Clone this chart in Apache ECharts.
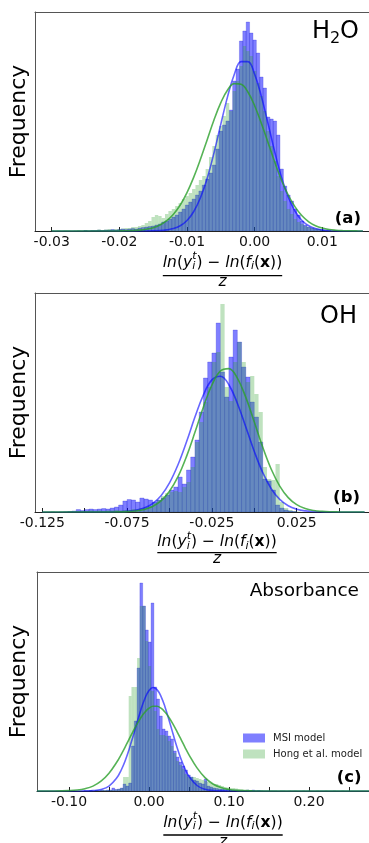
<!DOCTYPE html>
<html><head><meta charset="utf-8">
<script src="https://cdn.jsdelivr.net/npm/echarts@6/dist/echarts.min.js"></script>
<style>html,body{margin:0;padding:0;background:#fff;overflow:hidden}#c{width:369px;height:843px}</style>
</head><body><div id="c"></div>
<script>
// ---------------- DATA ----------------
// Panel (a) H2O : histogram bins (left edge of first bin, bin width, counts)
const binWidthA = 0.0005;
const msiStartA = -0.02525;
const msiCountsA = [0.5,0,0.5,0.5,1,0.5,1,1,1.5,1, 1.5,2,1.5,2,2.5,2,3,3.5,4,4.5, 5,6,7,9,10,12,14,16,19,22, 26,29,32,36,40,46,52,58,66,82, 100,106,110,121,150,162,190,200,209,198, 191,178,154,143,114,112,110,96,62,45, 36,30,22,16,10,6,4,3,2,1.5, 1,0.5,0.5];
const hongStartA = -0.03025;
const hongCountsA = [0.5,0,0.5,0,0.5,0.5,0,0.5,1,0.5, 1,0.5,1,1,1.5,1,1.5,2,1.5,2, 2,2.5,3,3,4,4,5,6,8,10, 14,16,15,13,17,20,22,25,28,32, 35,38,42,46,51,55,62,74,85,96, 105,115,128,120,140,150,165,185,180,175, 160,148,135,120,100,85,70,55,40,30, 22,17,12,9,7,5,4,3,2.5,2, 1.5,1,1,0.5,0.5];
const fitXA = [-0.030,-0.029,-0.028,-0.027,-0.026,-0.025,-0.024,-0.023,-0.022,-0.021,-0.020,-0.019,-0.018,-0.017,-0.016,-0.015,-0.014,-0.013,-0.012,-0.011,-0.010,-0.009,-0.008,-0.007,-0.006,-0.005,-0.004,-0.003,-0.002,-0.001,0,0.001,0.002,0.003,0.004,0.005,0.006,0.007,0.008,0.009,0.010,0.011,0.012,0.013,0.014,0.015,0.016];
const msiFitA = [0,0,0,0,0,0,0,0,0,0,0,0,0,0,0.05,0.15,0.4,1.1,2.4,5.2,10.5,19.5,33.5,53,78.4,106.9,134.4,156.8,169.4,169.4,156.8,134.4,106.9,78.4,53,33.5,19.5,10.5,5.2,2.4,1.1,0.4,0.15,0.05,0,0,0];
const hongFitA = [0,0,0,0,0,0,0,0,0,0.03,0.08,0.2,0.4,0.9,1.8,3.3,6,10.3,16.7,26,38.4,53.9,72,91.6,111.3,128.4,141,147.4,146.7,139,125.3,107.5,88,68.4,50.3,35.5,23.9,15.2,9.2,5.3,2.9,1.5,0.8,0.4,0.2,0.1,0];
const tickValsA = [-0.03,-0.02,-0.01,0,0.01];
const labelValsA = [-0.03,-0.02,-0.01,0,0.01];
const tickLabelsA = ['-0.03','-0.02','-0.01','0.00','0.01'];

// Panel (b) OH
const binWidthB = 0.0025;
const msiStartB = -0.1125;
const msiCountsB = [0,0.5,1,2.5,1.5,2.5,3,2.5,3,3.5, 3,4,5,7,11,12.5,12,10,14,13, 12,10,12,14,17,22,25,35,28,42, 55,72,100,134,150,159,189,140,115,155, 182,170,145,135,110,95,70,33,31,22, 7,4,2,1,0.5];
const hongStartB = -0.12;
const hongCountsB = [0.5,0,0.5,0.5,1,0.5,1,1,1,1.5, 1,1.5,1,1.5,1.5,2,1.5,2,2,3, 3,4,5,6,9,12,16,19,20,21, 20,25,30,45,70,90,110,125,150,160, 208,125,111,150,170,150,130,136,118,100, 45,33,32,48,10,4,2,1,0.5];
const fitXB = [-0.125,-0.12,-0.115,-0.11,-0.105,-0.1,-0.095,-0.09,-0.085,-0.08,-0.075,-0.07,-0.065,-0.06,-0.055,-0.05,-0.045,-0.04,-0.035,-0.03,-0.025,-0.02,-0.015,-0.01,-0.005,0,0.005,0.01,0.015,0.02,0.025,0.03,0.035,0.04,0.045,0.05,0.055,0.06,0.065];
const msiFitB = [0,0,0,0,0,0,0,0.02,0.07,0.23,0.64,1.7,3.9,8.4,16.3,29.1,47.2,70,94.9,117.2,132.1,135.7,127.3,108.8,85,60.5,39.3,23.3,12.6,6.2,2.8,1.1,0.4,0.15,0.05,0,0,0,0];
const hongFitB = [0,0,0,0,0,0,0,0.01,0.04,0.13,0.39,1.0,2.5,5.5,11.1,20.7,35.3,55.4,79.7,105.1,127,141,143.4,133.9,114.6,90,64.7,42.7,25.9,14.4,7.3,3.4,1.44,0.58,0.2,0.07,0,0,0];
const tickValsB = [-0.125,-0.1,-0.075,-0.05,-0.025,0,0.025,0.05];
const labelValsB = [-0.125,-0.075,-0.025,0.025];
const tickLabelsB = ['-0.125','-0.075','-0.025','0.025'];

// Panel (c) Absorbance
const binWidthC = 0.0035;
const msiStartC = -0.0814;
const msiCountsC = [0,0,0.5,0,0.5,0.5,1,0.5,1,1, 3,1.5,2,3,7,5,8,45,70,123, 208,185,161,149,188,104,92,75,62,60, 55,52,40,34,29,25,21,16,14,11, 10,8,7,12,5,4,3,2.5,2,2, 1.5,1.5,1,1,1,0.5,0.5,0.5,1,0.5, 1,0,0.5];
const hongStartC = -0.0814;
const hongCountsC = [0.5,0.5,1,0.5,1,0.5,1,1,1,1, 1,1.5,2,3,14,14,95,104,104,133, 185,185,150,125,100,80,62,56,56,55, 50,45,38,30,26,22,17,14,14,14, 13,12,11,10,9,8,7,7,6,5, 4,3.5,3,3,2.5,2,2,1.5,1.5,1, 1,1,0.5,1,0.5,0.5,0.5,0.5,0.5,0, 0.5,0.5,0,0.5,0,0.5,0,0,0.5,0, 0.5,0,0,0.5,0,0,0.5,0,0,0.5, 0,0,0.5];
const fitXC = [-0.14,-0.12,-0.11,-0.10,-0.09,-0.08,-0.07,-0.06,-0.05,-0.04,-0.035,-0.03,-0.025,-0.02,-0.015,-0.01,-0.005,0,0.005,0.01,0.015,0.02,0.025,0.03,0.035,0.04,0.045,0.05,0.06,0.07,0.08,0.09,0.10,0.11,0.12,0.13,0.15,0.20,0.25,0.28];
const msiFitC = [0,0,0,0,0.01,0.08,0.37,1.5,4.9,13.4,20.5,29.8,41.3,54.5,68.3,81.6,92.8,100.5,103.5,101.4,94.7,84.1,71.1,57.2,43.8,32,22.2,14.6,5.5,1.7,0.43,0.1,0,0,0,0,0,0,0,0];
const hongFitC = [0,0.04,0.12,0.36,0.94,2.3,4.9,9.8,17.8,29.2,36.2,43.7,51.6,59.4,66.9,73.5,78.9,82.8,84.7,84.7,82.8,78.9,73.5,66.9,59.4,51.6,43.7,36.2,23.1,13.4,7.05,3.4,1.5,0.6,0.2,0.07,0,0,0,0];
const tickValsC = [-0.1,-0.05,0,0.05,0.1,0.15,0.2,0.25];
const labelValsC = [-0.1,0,0.1,0.2];
const tickLabelsC = ['-0.10','0.00','0.10','0.20'];

const seriesNames = ['MSI model','Hong et al. model'];
const panelTitles = ['H\u2082O','OH','Absorbance'];
const panelLetters = ['(a)','(b)','(c)'];
const yLabel = 'Frequency';

// ---------------- BUILD ----------------
const FAM = '"DejaVu Sans"';
const BLUE = 'rgba(0,0,255,0.5)';
const BLUE_EDGE = 'rgba(0,0,200,0.35)';
const GREEN = 'rgba(44,160,44,0.3)';
const BLUE_LINE = 'rgba(0,0,255,0.6)';
const GREEN_LINE = 'rgba(44,160,44,0.8)';
const SPINE = '#555';

function bins(start, width, counts){
  return counts.map((c,i)=>[start+i*width, start+(i+1)*width, c]);
}
function pairs(xs, ys){ return xs.map((x,i)=>[x, ys[i]]); }

function makeRender(edge){
  return function(params, api){
    const p0 = api.coord([api.value(0), api.value(2)]);
    const p1 = api.coord([api.value(1), 0]);
    const style = {fill: api.visual('color')};
    if (edge) { style.stroke = edge; style.lineWidth = 0.6; }
    return {type:'rect', shape:{x:p0[0], y:p0[1], width:p1[0]-p0[0], height:p1[1]-p0[1]}, style:style};
  };
}

// grid spans beyond the right edge of the page (the reference crops its plots there)
const panels = [
  {grid:{left:35, top:12, width:406, height:219}, range:[-0.03247,0.02755],
   msi:bins(msiStartA,binWidthA,msiCountsA), hong:bins(hongStartA,binWidthA,hongCountsA),
   msiFit:pairs(fitXA,msiFitA), hongFit:pairs(fitXA,hongFitA),
   ticks:tickValsA, labVals:labelValsA, labs:tickLabelsA},
  {grid:{left:35, top:293, width:406, height:219}, range:[-0.1293,0.11008],
   msi:bins(msiStartB,binWidthB,msiCountsB), hong:bins(hongStartB,binWidthB,hongCountsB),
   msiFit:pairs(fitXB,msiFitB), hongFit:pairs(fitXB,hongFitB),
   ticks:tickValsB, labVals:labelValsB, labs:tickLabelsB},
  {grid:{left:37, top:572, width:404, height:219}, range:[-0.14,0.365],
   msi:bins(msiStartC,binWidthC,msiCountsC), hong:bins(hongStartC,binWidthC,hongCountsC),
   msiFit:pairs(fitXC,msiFitC), hongFit:pairs(fitXC,hongFitC),
   ticks:tickValsC, labVals:labelValsC, labs:tickLabelsC}
];

const grids=[], xAxes=[], yAxes=[], series=[];
panels.forEach((p,i)=>{
  grids.push(Object.assign({show:false, containLabel:false, outerBoundsMode:'none'}, p.grid));
  xAxes.push({type:'value', gridIndex:i, position:'bottom', min:p.range[0], max:p.range[1],
    axisLine:{show:true, onZero:false, lineStyle:{color:'#222', width:1}},
    axisTick:{show:true, inside:true, length:4, customValues:p.ticks, lineStyle:{color:'#222', width:1}},
    axisLabel:{show:true, customValues:p.labVals, margin:4, fontSize:14, fontFamily:FAM, color:'#111',
      hideOverlap:false,
      formatter:(v)=>{ const k=p.labVals.findIndex(t=>Math.abs(t-v)<1e-9); return k>=0?p.labs[k]:''; }},
    splitLine:{show:false}});
  xAxes.push({type:'value', gridIndex:i, position:'top', min:p.range[0], max:p.range[1],
    axisLine:{show:true, onZero:false, lineStyle:{color:SPINE, width:1}},
    axisTick:{show:false}, axisLabel:{show:false}, splitLine:{show:false}});
  yAxes.push({type:'value', gridIndex:i, min:0, max:219,
    axisLine:{show:true, onZero:false, lineStyle:{color:SPINE, width:1}},
    axisTick:{show:false}, axisLabel:{show:false}, splitLine:{show:false}});
  const xi = 2*i;
  series.push({type:'custom', name:seriesNames[0], xAxisIndex:xi, yAxisIndex:i, renderItem:makeRender(BLUE_EDGE),
    encode:{x:[0,1], y:2}, data:p.msi, itemStyle:{color:BLUE}, clip:true, z:2});
  series.push({type:'custom', name:seriesNames[1], xAxisIndex:xi, yAxisIndex:i, renderItem:makeRender(null),
    encode:{x:[0,1], y:2}, data:p.hong, itemStyle:{color:GREEN}, clip:true, z:3});
  series.push({type:'line', name:'msi fit', xAxisIndex:xi, yAxisIndex:i, data:p.msiFit, smooth:0.4,
    showSymbol:false, lineStyle:{color:BLUE_LINE, width:1.6}, itemStyle:{color:BLUE_LINE}, z:4, clip:true});
  series.push({type:'line', name:'hong fit', xAxisIndex:xi, yAxisIndex:i, data:p.hongFit, smooth:0.4,
    showSymbol:false, lineStyle:{color:GREEN_LINE, width:1.6}, itemStyle:{color:GREEN_LINE}, z:4, clip:true});
});

const mctx = document.createElement('canvas').getContext('2d');
function fontOf(p){ return (p.style==='italic'?'italic ':'')+(p.style==='bold'?'bold ':'')+p.size+'px '+FAM; }
function compose(pieces, anchorX, cy, align){
  let x=0, prevStart=0; const items=[];
  pieces.forEach(p=>{
    const font=fontOf(p); mctx.font=font; const w=mctx.measureText(p.text).width;
    let px;
    if(p.stack){ px=prevStart; x=Math.max(x, prevStart+w); }
    else { px=x; prevStart=x; x+=w; }
    items.push({type:'text', x:px, y:p.dy||0, silent:true,
      style:{text:p.text, font:font, fill:'#000', align:'left', verticalAlign:'middle'}});
  });
  const x0 = align==='center'? anchorX-x/2 : align==='right'? anchorX-x : anchorX;
  return {g:{type:'group', x:x0, y:cy, children:items, silent:true}, width:x, x0:x0};
}
const FS=15.5, SM=11;
function numeratorPieces(){
  return [
    {text:'ln', style:'italic', size:FS},
    {text:'(', style:'normal', size:FS},
    {text:'y', style:'italic', size:FS},
    {text:'t', style:'italic', size:SM, dy:-6},
    {text:'i', style:'italic', size:SM, dy:4, stack:true},
    {text:')', style:'normal', size:FS},
    {text:' \u2212 ', style:'normal', size:FS},
    {text:'ln', style:'italic', size:FS},
    {text:'(', style:'normal', size:FS},
    {text:'f', style:'italic', size:FS},
    {text:'i', style:'italic', size:SM, dy:4},
    {text:'(', style:'normal', size:FS},
    {text:'x', style:'bold', size:FS},
    {text:'))', style:'normal', size:FS}
  ];
}
const graphics=[];
const fracPos = [ {cx:222.5, ny:262.5, ly:275.7, zy:281.5},
                  {cx:217,   ny:542,   ly:552.7, zy:558.8},
                  {cx:223,   ny:822.5, ly:835,   zy:841.5} ];
fracPos.forEach(f=>{
  const r = compose(numeratorPieces(), f.cx, f.ny, 'center');
  graphics.push(r.g);
  graphics.push({type:'line', silent:true, shape:{x1:r.x0, y1:f.ly, x2:r.x0+r.width, y2:f.ly}, style:{stroke:'#000', lineWidth:1.3}});
  graphics.push({type:'text', silent:true, x:f.cx, y:f.zy, style:{text:'z', font:'italic '+FS+'px '+FAM, fill:'#000', align:'center', verticalAlign:'middle'}});
});
graphics.push(compose([{text:'H',style:'normal',size:24},{text:'2',style:'normal',size:16,dy:7},{text:'O',style:'normal',size:24}],359,31.5,'right').g);
graphics.push({type:'text', silent:true, x:357, y:316.5, style:{text:panelTitles[1], font:'24px '+FAM, fill:'#000', align:'right', verticalAlign:'middle'}});
graphics.push({type:'text', silent:true, x:359, y:591.5, style:{text:panelTitles[2], font:'18.5px '+FAM, fill:'#000', align:'right', verticalAlign:'middle'}});
[[361,218.5],[360,497.5],[361.5,777.5]].forEach((pos,i)=>{
  graphics.push({type:'text', silent:true, x:pos[0], y:pos[1], style:{text:panelLetters[i], font:'bold 16.5px '+FAM, fill:'#000', align:'right', verticalAlign:'middle'}});
});
[121.5,402.5,681.5].forEach(cy=>{
  graphics.push({type:'text', silent:true, x:19, y:cy, rotation:Math.PI/2, style:{text:yLabel, font:'22px '+FAM, fill:'#000', align:'center', verticalAlign:'middle'}});
});

const chart = echarts.init(document.getElementById('c'), null, {renderer:'canvas'});
chart.setOption({
  animation:false,
  textStyle:{fontFamily:FAM},
  grid:grids, xAxis:xAxes, yAxis:yAxes, series:series,
  legend:{data:seriesNames, orient:'vertical', left:243, top:733, padding:0, itemWidth:22, itemHeight:9, itemGap:6,
    icon:'rect', selectedMode:false, textStyle:{fontSize:10, color:'#222', fontFamily:FAM, padding:[0,0,0,3]}},
  graphic:graphics
});
</script></body></html>
